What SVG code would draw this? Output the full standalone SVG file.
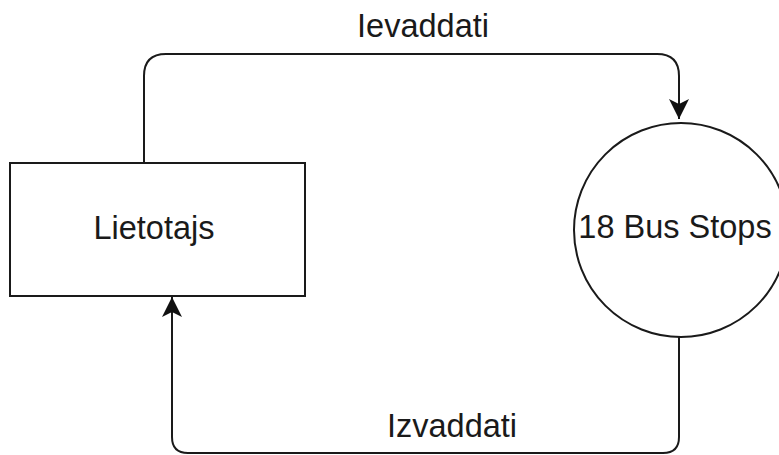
<svg xmlns="http://www.w3.org/2000/svg" width="779" height="455" viewBox="0 0 779 455">
  <style>
    .shape { fill: #ffffff; stroke: #1a1a1a; stroke-width: 2; }
    .edge { fill: none; stroke: #1a1a1a; stroke-width: 2; }
    .label { font-family: "Liberation Sans", Arial, sans-serif; font-size: 32.5px; fill: #1a1a1a; text-anchor: middle; }
  </style>
  <defs>
    <marker id="arrow" markerUnits="userSpaceOnUse" markerWidth="22" markerHeight="22" refX="20" refY="10" orient="auto" overflow="visible">
      <path d="M0,0 L20,10 L0,20 L5,10 Z" fill="#111111"/>
    </marker>
  </defs>
  <rect width="779" height="455" fill="#ffffff"/>

  <g id="connectors">
    <g id="edge-input">
      <path class="edge" d="M144,163 V76 Q144,54 166,54 H657 Q679,54 679,76 V119" marker-end="url(#arrow)"/>
      <text class="label" x="423" y="37">Ievaddati</text>
    </g>
    <g id="edge-output">
      <path class="edge" d="M679,337 V437 Q679,453 663,453 H188 Q172,453 172,437 V297" marker-end="url(#arrow)"/>
      <text class="label" x="452" y="437">Izvaddati</text>
    </g>
  </g>

  <g id="node-user">
    <rect class="shape" x="10" y="163" width="295" height="133"/>
    <text class="label" x="154" y="239">Lietotajs</text>
  </g>

  <g id="node-stops">
    <circle class="shape" cx="681" cy="230" r="107"/>
    <text class="label" x="675" y="238">18 Bus Stops</text>
  </g>
</svg>
